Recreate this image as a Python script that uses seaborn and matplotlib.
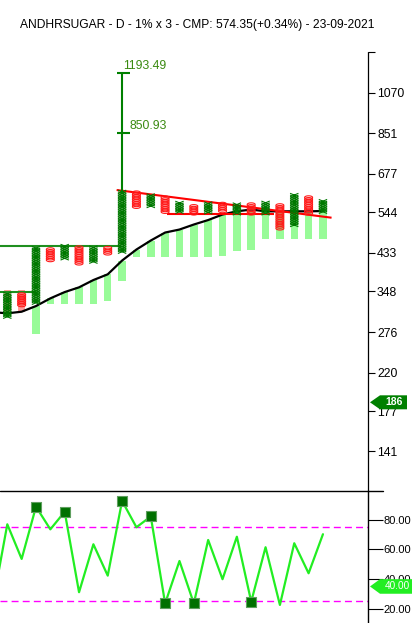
import numpy as np
import pandas as pd
import matplotlib
matplotlib.use("Agg")
import matplotlib.pyplot as plt
import seaborn as sns
from matplotlib.path import Path
from matplotlib.patches import Polygon
from matplotlib.lines import Line2D
import matplotlib.transforms as mtransforms
from matplotlib.ticker import NullLocator

sns.set_style("white")
plt.rcParams['font.family'] = ['Liberation Sans', 'DejaVu Sans']

# ---------------- data ----------------
title = "ANDHRSUGAR - D - 1% x 3 - CMP: 574.35(+0.34%) - 23-09-2021"
box_pct = 1.0

col_kind = ['X', 'O', 'X', 'O', 'X', 'O', 'X', 'O', 'X', 'O', 'X', 'O',
            'X', 'O', 'X', 'O', 'X', 'O', 'X', 'O', 'X', 'O', 'X']
col_low = [301.6, 322.2, 326.4, 415.5, 419.5, 407.8, 411.6, 431.5, 435.4, 561.5,
           563.7, 545.8, 545.8, 540.9, 544.0, 548.0, 540.9, 540.9, 540.9, 497.0,
           506.4, 540.9, 545.8]
col_high = [342.9, 340.9, 443.9, 439.7, 447.9, 443.9, 447.9, 443.9, 611.1, 605.6,
            596.5, 588.8, 572.4, 563.7, 572.4, 570.1, 570.1, 566.9, 572.4, 566.9,
            599.9, 594.1, 577.6]

ma_idx = list(range(-1, 23))
ma_vals = [309.5, 307.5, 310.3, 320.4, 334.6, 346.7, 356.1, 371.1, 383.3, 414.3,
           440.9, 463.9, 485.3, 493.6, 507.8, 520.8, 537.3, 547.1, 552.6, 547.1,
           547.1, 547.1, 547.1, 548.0]
band_vals = [350.7, 350.7, 273.5, 324.1, 324.1, 324.1, 324.1, 329.6, 369.0, 421.9,
             421.9, 421.9, 421.9, 421.9, 421.9, 425.0, 438.4, 439.7, 467.9, 467.9,
             467.9, 467.9, 467.9]

target_col = 8
targets = [1193.49, 850.93]
target_label_x = [8.08, 8.55]

res_x = [7.62, 22.6]
res_y = [617.1, 527.7]
sup_x = [11.1, 18.6]
sup_y = [538.8, 538.8]
brk1_x = [-1.0, 7.9]
brk1_y = [450.4, 450.4]
brk2_x = [-1.0, 2.0]
brk2_y = [347.4, 347.4]

price_ticks = [141, 177, 220, 276, 348, 433, 544, 677, 851, 1070, 1345]
price_labels = ['141', '177', '220', '276', '348', '433', '544', '677', '851', '1070', '']
price_tag = 186

osc_idx = list(range(-1, 23))
osc_vals = [24.0, 77.0, 53.6, 88.9, 73.6, 85.5, 31.1, 63.5, 42.3, 92.8, 75.0, 82.3,
            23.5, 52.2, 23.5, 66.4, 39.9, 68.6, 24.7, 61.5, 22.5, 64.2, 43.9, 70.3]
osc_signal_idx = [2, 4, 8, 10, 11, 13, 17]
osc_levels = [75, 25]
osc_ticks = [20, 40, 60, 80]
osc_tag_text = "40.00"
osc_tag_pos = 35.0

# ---------------- figure ----------------
W, H = 419, 623
fig = plt.figure(figsize=(W / 100, H / 100), dpi=100)
fig.patch.set_facecolor('white')
ax = fig.add_axes([0, 132 / H, 368 / W, 440 / H])
ax2 = fig.add_axes([0, 0, 368 / W, 132 / H])
xlim = (-0.509, 25.14)

# ---- main panel ----
ax.set_yscale('log')
ax.set_xlim(*xlim)
ax.set_ylim(112.7, 1353.3)

cols = np.arange(len(col_kind))
ma_map = dict(zip(ma_idx, ma_vals))
ma_cols = np.array([ma_map[c] for c in cols])
band = np.array(band_vals)
bar_bottom = np.minimum(ma_cols, band)
bar_height = np.abs(ma_cols - band)
bar_colors = ['#98fb98' if b < m else '#ff9c9c' for b, m in zip(band, ma_cols)]
ax.bar(cols, bar_height, bottom=bar_bottom, width=0.52, color=bar_colors,
       linewidth=0, zorder=1)

df_ma = pd.DataFrame({'col': ma_idx, 'ma': ma_vals})
sns.lineplot(data=df_ma, x='col', y='ma', color='black', lw=1.6, ax=ax,
             sort=False, estimator=None, zorder=3, legend=False)

# P&F boxes
xm = Path([(-1, -0.42), (1, 0.42), (-1, 0.42), (1, -0.42)],
          [Path.MOVETO, Path.LINETO, Path.MOVETO, Path.LINETO])
t = np.linspace(0, 2 * np.pi, 25)
om = Path(np.column_stack([np.cos(t), 0.42 * np.sin(t)]))
step = 1 + box_pct / 100
xs, ys, os_, oy = [], [], [], []
for c, k, lo, hi in zip(cols, col_kind, col_low, col_high):
    n = int(round(np.log(hi / lo) / np.log(step)))
    lv = lo * step ** np.arange(n + 1)
    if k == 'X':
        xs += [c] * len(lv); ys += list(lv)
    else:
        os_ += [c] * len(lv); oy += list(lv)
ax.scatter(xs, ys, marker=xm, s=36, facecolors='none', edgecolors='#007800',
           linewidths=0.8, zorder=5)
ax.scatter(os_, oy, marker=om, s=34, facecolors='none', edgecolors='#ff1a1a',
           linewidths=0.8, zorder=5)

# trend lines
ax.plot(res_x, res_y, color='#ff0000', lw=1.5, zorder=4, solid_capstyle='butt')
ax.plot(sup_x, sup_y, color='#ff0000', lw=1.5, zorder=4, solid_capstyle='butt')
ax.plot(brk1_x, brk1_y, color='#1f8f1f', lw=1.5, zorder=4, solid_capstyle='butt')
ax.plot(brk2_x, brk2_y, color='#1f8f1f', lw=1.5, zorder=4, solid_capstyle='butt')

# price targets
ax.plot([target_col, target_col], [col_high[target_col], max(targets)],
        color='#008000', lw=1.5, zorder=4)
ax.hlines(targets, target_col - 0.38, target_col + 0.55, color='#008000', lw=1.5, zorder=4)
for tv, tx in zip(targets, target_label_x):
    ax.annotate(f"{tv:.2f}", xy=(tx, tv), xytext=(0, 0.8), textcoords='offset points',
                ha='left', va='bottom', fontsize=8.8, color='#3a8a10', zorder=6)

ax.set_xticks([])
ax.yaxis.set_ticks_position('right')
ax.set_yticks(price_ticks)
ax.set_yticklabels(price_labels)
ax.yaxis.set_minor_locator(NullLocator())
ax.tick_params(axis='y', which='major', direction='out', length=5, width=0.8,
               pad=1.5, labelsize=8.8, colors='black', right=True, left=False)
for s in ['top', 'left', 'bottom']:
    ax.spines[s].set_visible(False)
ax.spines['right'].set_linestyle((0, (1, 1)))
ax.spines['right'].set_linewidth(0.9)
ax.spines['right'].set_color('black')
ax.set_xlabel(''); ax.set_ylabel('')

# ---- oscillator panel ----
ax2.set_xlim(*xlim)
ax2.set_ylim(10.3, 99.5)
for lvl in osc_levels:
    ax2.axhline(lvl, color='#ff00ff', lw=1.0, ls=(0, (5, 3)), zorder=1)
df_osc = pd.DataFrame({'col': osc_idx, 'v': osc_vals})
sns.lineplot(data=df_osc, x='col', y='v', color='#22ee22', lw=1.6, ax=ax2,
             sort=False, estimator=None, zorder=3, legend=False)
osc_map = dict(zip(osc_idx, osc_vals))
df_sig = pd.DataFrame({'col': osc_signal_idx, 'v': [osc_map[i] for i in osc_signal_idx]})
sns.scatterplot(data=df_sig, x='col', y='v', marker='s', s=48, color='#007000',
                edgecolor='#5f9f5f', linewidth=0.8, ax=ax2, zorder=5, legend=False)
ax2.set_xticks([])
ax2.yaxis.set_ticks_position('right')
ax2.set_yticks(osc_ticks)
ax2.set_yticklabels([f"{v:.2f}" for v in osc_ticks])
ax2.tick_params(axis='y', direction='out', length=10.8, width=0.8, pad=0.3,
                labelsize=8, colors='black', right=True, left=False)
for s in ['top', 'left', 'bottom']:
    ax2.spines[s].set_visible(False)
ax2.spines['right'].set_linewidth(1.0)
ax2.spines['right'].set_color('black')
ax2.set_xlabel(''); ax2.set_ylabel('')

fig.add_artist(Line2D([0, 383 / W], [132 / H, 132 / H], transform=fig.transFigure,
                      color='black', lw=1.0))

# ---- value tags ----
def tag(axis, value, text, color, size, bold, head, width, half):
    tr = mtransforms.blended_transform_factory(axis.transAxes, axis.transData)
    px, py = tr.transform((1.0, value))
    px += 2
    verts = [(px, py), (px + head, py + half), (px + width, py + half),
             (px + width, py - half), (px + head, py - half)]
    verts = [(vx / W, vy / H) for vx, vy in verts]
    fig.add_artist(Polygon(verts, closed=True, transform=fig.transFigure,
                           facecolor=color, edgecolor='none', zorder=10))
    fig.text((px + (head + width) / 2 + 1) / W, py / H, text, color='white',
             fontsize=size, fontweight='bold' if bold else 'normal',
             ha='center', va='center', zorder=11)

tag(ax, price_tag, str(price_tag), '#008000', 7.5, True, 10, 37, 7)
tag(ax2, osc_tag_pos, osc_tag_text, '#22ee22', 7.2, False, 10, 42, 7.3)

fig.text(197.5 / W, 1 - 25 / H, title, fontsize=8.67, ha='center', va='center',
         color='black')

fig.savefig('out.png', dpi=100, facecolor='white')
